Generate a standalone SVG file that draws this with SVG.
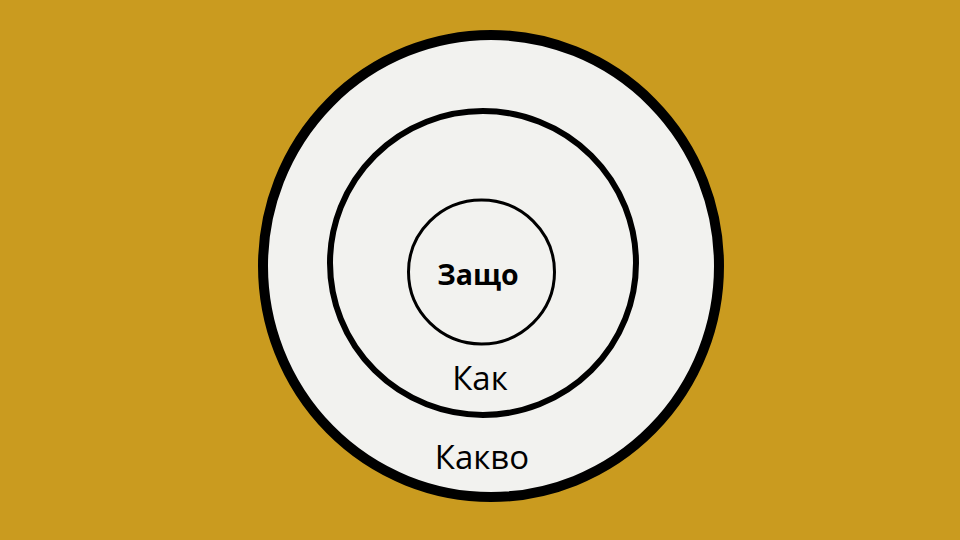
<svg xmlns="http://www.w3.org/2000/svg" width="960" height="540" viewBox="0 0 960 540">
<style>
.ring{fill:#F2F2EF;stroke:#000}
.t{font-family:"Open Sans","Noto Sans","Liberation Sans",sans-serif;font-size:33px;fill:#000;text-anchor:middle}
.b{font-weight:bold;font-size:28.5px}
</style>
<rect width="960" height="540" fill="#CA9B1F"/>
<g id="outer"><ellipse class="ring" cx="491" cy="266" rx="228" ry="231" stroke-width="10"/><text class="t" x="482" y="469">Какво</text></g>
<g id="middle"><ellipse class="ring" cx="483" cy="263" rx="153" ry="152" stroke-width="6"/><text class="t" x="480" y="390">Как</text></g>
<g id="inner"><ellipse class="ring" cx="481.5" cy="272" rx="73" ry="72" stroke-width="3"/><text class="t b" x="478" y="285">Защо</text></g>
</svg>
